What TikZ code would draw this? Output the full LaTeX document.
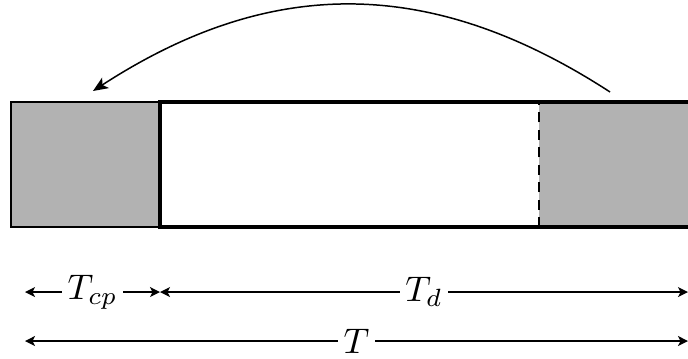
\documentclass[tikz,border=0pt]{standalone}
\usetikzlibrary{arrows.meta}

\tikzset{
  dimline/.style={{Stealth[length=4pt,width=4pt,inset=1pt]}-{Stealth[length=4pt,width=4pt,inset=1pt]}, semithick},
  dimlabel/.style={fill=white, inner sep=1.5pt, scale=1.43},
  cpbox/.style={fill=gray!60, draw, semithick},
}

\begin{document}
\begin{tikzpicture}
    \useasboundingbox (0,0) rectangle (9.708,5.052);

    % Points
    \coordinate (cpa) at (0.155,1.849);
    \coordinate (cpb) at (2.258,3.612);
    \coordinate (sa) at (2.258,1.849);
    \coordinate (sb) at (9.74,3.612);
    \coordinate (ta) at (7.606,1.849);
    \coordinate (tb) at (7.606,3.612);

    % Prefixe cyclique
    \draw[cpbox] (cpa) rectangle (cpb);

    % Queue du symbole
    \fill[gray!60] (ta) rectangle (sb);
    \draw[line width=1pt, dash pattern=on 4pt off 3pt] (ta) -- (tb);

    % Symbole
    \draw[line width=1.6pt] (sa) rectangle (sb);

    % Copie
    \coordinate (src) at (8.608,3.754);
    \coordinate (dst) at (1.312,3.768);
    \draw[-{Stealth[length=6pt,width=5pt,inset=1.5pt]}, semithick] (src) to[out=147, in=33, looseness=1.05] (dst);

    % Durees
    \coordinate (d0) at (0.353,0.931);
    \coordinate (d1) at (2.258,0.931);
    \coordinate (d2) at (9.708,0.931);
    \coordinate (e0) at (0.353,0.240);
    \coordinate (e1) at (9.708,0.240);
    \draw[dimline] (d0) -- node[dimlabel] {$T_{cp}$} (d1);
    \draw[dimline] (d1) -- node[dimlabel] {$T_d$} (d2);
    \draw[dimline] (e0) -- node[dimlabel] {$T$} (e1);
\end{tikzpicture}
\end{document}
